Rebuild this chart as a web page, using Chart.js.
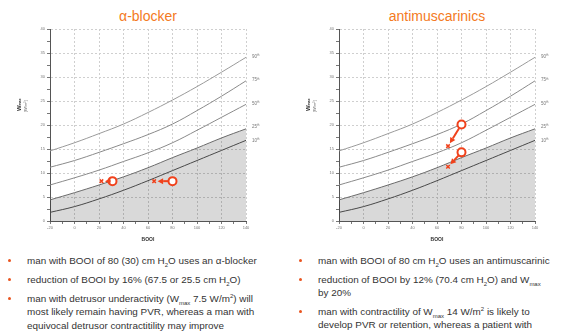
<!DOCTYPE html>
<html>
<head>
<meta charset="utf-8">
<script src="https://cdn.jsdelivr.net/npm/chart.js@4/dist/chart.umd.min.js"></script>
<style>
  body { margin: 0; width: 576px; height: 333px; background: #fff; overflow: hidden; position: relative; font-family: "Liberation Sans", Arial, sans-serif; }
  canvas { position: absolute; top: 0; }
  .title { position: absolute; top: 8px; font-size: 14px; color: #f47a22; text-align: center; width: 200px; }
  .bul { position: absolute; font-size: 9.9px; color: #333; line-height: 13.4px; }
  .bul:before { content: ""; position: absolute; left: -19px; top: 5px; width: 3px; height: 3px; border-radius: 50%; background: #e9541f; }
  sub, sup { font-size: 6px; line-height: 0; }
</style>
</head>
<body>
<div class="title" style="left:48px">α-blocker</div>
<div class="title" style="left:337px">antimuscarinics</div>
<canvas id="c1" width="288" height="250" style="left:0"></canvas>
<canvas id="c2" width="286" height="250" style="left:290px"></canvas>

<div class="bul" style="left:27px;top:254px">man with BOOI of 80 (30) cm H<sub>2</sub>O uses an α-blocker</div>
<div class="bul" style="left:27px;top:273px">reduction of BOOI by 16% (67.5 or 25.5 cm H<sub>2</sub>O)</div>
<div class="bul" style="left:27px;top:292px">man with detrusor underactivity (W<sub>max</sub> 7.5 W/m<sup>2</sup>) will<br>most likely remain having PVR, whereas a man with<br>equivocal detrusor contractitility may improve</div>

<div class="bul" style="left:318px;top:254px">man with BOOI of 80 cm H<sub>2</sub>O uses an antimuscarinic</div>
<div class="bul" style="left:318px;top:273px">reduction of BOOI by 12% (70.4 cm H<sub>2</sub>O) and W<sub>max</sub><br>by 20%</div>
<div class="bul" style="left:318px;top:305px">man with contractility of W<sub>max</sub> 14 W/m<sup>2</sup> is likely to<br>develop PVR or retention, whereas a patient with</div>

<script>
// nomogram percentile curves (BOOI vs Wmax)
const booi = [-20, 0, 20, 40, 60, 80, 100, 120, 140];
const p90 = [14.6, 16.3, 18.2, 20.2, 22.6, 25.2, 28.0, 31.0, 34.1];
const p75 = [11.2, 12.6, 14.3, 16.1, 18.0, 20.2, 23.0, 26.0, 29.2];
const p50 = [7.5, 9.0, 10.6, 12.4, 14.2, 16.3, 18.9, 21.6, 24.3];
const p25 = [4.4, 5.9, 7.5, 9.2, 11.1, 13.2, 15.2, 17.3, 19.2];
const p10 = [1.8, 3.0, 4.6, 6.4, 8.4, 10.5, 12.6, 14.7, 16.8];
const pctLabels = ['90', '75', '50', '25', '10'];

// patients: before (circle) and after (x)
const alphaBefore = [[80, 8.3], [31, 8.3]];
const alphaAfter = [[65, 8.3], [22, 8.3]];
const antiBefore = [[80, 20.1], [80, 14.3]];
const antiAfter = [[69, 15.6], [69, 11.3]];

const red = '#f0421c';

function pts(ys) { return booi.map((x, i) => ({x: x, y: ys[i]})); }

const extras = {
  id: 'extras',
  afterDatasetsDraw(chart) {
    const {ctx, chartArea, scales: {x, y}} = chart;
    const o = chart.options.plugins.extras;
    // arrows
    ctx.save();
    ctx.strokeStyle = red; ctx.fillStyle = red; ctx.lineWidth = 2;
    o.before.forEach((b, i) => {
      const a = o.after[i];
      const x0 = x.getPixelForValue(b[0]), y0 = y.getPixelForValue(b[1]);
      const x1 = x.getPixelForValue(a[0]), y1 = y.getPixelForValue(a[1]);
      const ang = Math.atan2(y1 - y0, x1 - x0);
      const sx = x0 + Math.cos(ang) * 4.5, sy = y0 + Math.sin(ang) * 4.5;
      const tx = x1 - Math.cos(ang) * 3.5, ty = y1 - Math.sin(ang) * 3.5;
      const hl = 5.5, hw = 3;
      const bx = tx - Math.cos(ang) * hl, by = ty - Math.sin(ang) * hl;
      ctx.beginPath(); ctx.moveTo(sx, sy); ctx.lineTo(bx, by); ctx.stroke();
      ctx.beginPath();
      ctx.moveTo(tx, ty);
      ctx.lineTo(bx + Math.sin(ang) * hw, by - Math.cos(ang) * hw);
      ctx.lineTo(bx - Math.sin(ang) * hw, by + Math.cos(ang) * hw);
      ctx.closePath(); ctx.fill();
    });
    ctx.restore();
    // percentile labels
    ctx.save();
    ctx.fillStyle = '#777';
    ctx.textBaseline = 'middle';
    const shift = [0, 0, 0, -1.5, 1];
    [p90, p75, p50, p25, p10].forEach((arr, i) => {
      const py = y.getPixelForValue(arr[arr.length - 1]) + shift[i] - 1;
      const px = chartArea.right + 6;
      ctx.font = '4.5px "Liberation Sans"';
      ctx.fillText(pctLabels[i], px, py);
      const w = ctx.measureText(pctLabels[i]).width;
      ctx.font = '3px "Liberation Sans"';
      ctx.fillText('th', px + w, py - 1);
    });
    ctx.restore();
    // y axis title
    ctx.save();
    ctx.translate(chartArea.left - 31, (chartArea.top + chartArea.bottom) / 2 - 20);
    ctx.rotate(-Math.PI / 2);
    ctx.fillStyle = '#333';
    ctx.textBaseline = 'middle';
    ctx.textAlign = 'left';
    ctx.font = 'bold 6px "Liberation Sans"';
    ctx.fillText('W', -6, 0);
    ctx.font = 'bold 3.5px "Liberation Sans"';
    ctx.fillText('max', -0.5, 1.5);
    ctx.font = '4px "Liberation Sans"';
    ctx.fillStyle = '#666';
    ctx.fillText('[W/m²]', -7, 7);
    ctx.restore();
  }
};

function makeChart(id, before, after, axisW, padRight) {
  const curve = (data, color, fill) => ({
    type: 'line', data: pts(data), borderColor: color, borderWidth: 1,
    pointRadius: 0, tension: 0.4, fill: fill ? 'origin' : false,
    backgroundColor: 'rgba(0,0,0,0.15)', order: 3
  });
  return new Chart(document.getElementById(id), {
    type: 'scatter',
    data: {
      datasets: [
        curve(p90, '#9a9a9a'), curve(p75, '#8a8a8a'), curve(p50, '#8a8a8a'),
        curve(p25, '#6a6a6a', true), curve(p10, '#555'),
        { data: before.map(p => ({x: p[0], y: p[1]})), pointStyle: 'circle', pointRadius: 4,
          borderWidth: 2, borderColor: red, backgroundColor: '#fff', order: 1 },
        { data: after.map(p => ({x: p[0], y: p[1]})), pointStyle: 'crossRot', pointRadius: 2.5,
          borderWidth: 1.5, borderColor: red, order: 1 }
      ]
    },
    options: {
      responsive: false, animation: false,
      layout: { padding: { left: 0, top: 29, right: padRight, bottom: 0 } },
      plugins: { legend: { display: false }, tooltip: { enabled: false },
        extras: { before: before, after: after } },
      scales: {
        x: {
          type: 'linear', min: -20, max: 140,
          ticks: { stepSize: 10, autoSkip: false, maxRotation: 0, padding: 1, color: '#777',
            font: { size: 4 }, callback: v => v % 20 === 0 ? v : '' },
          grid: { color: c => c.tick && c.tick.value % 20 === 0 ? '#cfcfcf' : 'rgba(0,0,0,0)',
            tickColor: '#777', tickLength: 3, lineWidth: 1 },
          border: { color: '#555', dash: [2, 2] },
          title: { display: true, text: 'BOOI', color: '#333', font: { size: 5, weight: 'bold' },
            padding: { top: 0, bottom: 7 } },
          afterFit: s => { s.height = 29; }
        },
        y: {
          min: 0, max: 40,
          ticks: { stepSize: 2.5, autoSkip: false, padding: 2, color: '#777', font: { size: 4 },
            callback: v => v % 5 === 0 ? v : '' },
          grid: { color: c => c.tick && c.tick.value % 5 === 0 ? '#cfcfcf' : 'rgba(0,0,0,0)',
            tickColor: '#777', tickLength: 3 },
          border: { color: '#555', dash: [2, 2] },
          afterFit: s => { s.width = axisW; }
        }
      }
    },
    plugins: [extras]
  });
}

makeChart('c1', alphaBefore, alphaAfter, 50, 42);
makeChart('c2', antiBefore, antiAfter, 49, 41);
</script>
</body>
</html>
